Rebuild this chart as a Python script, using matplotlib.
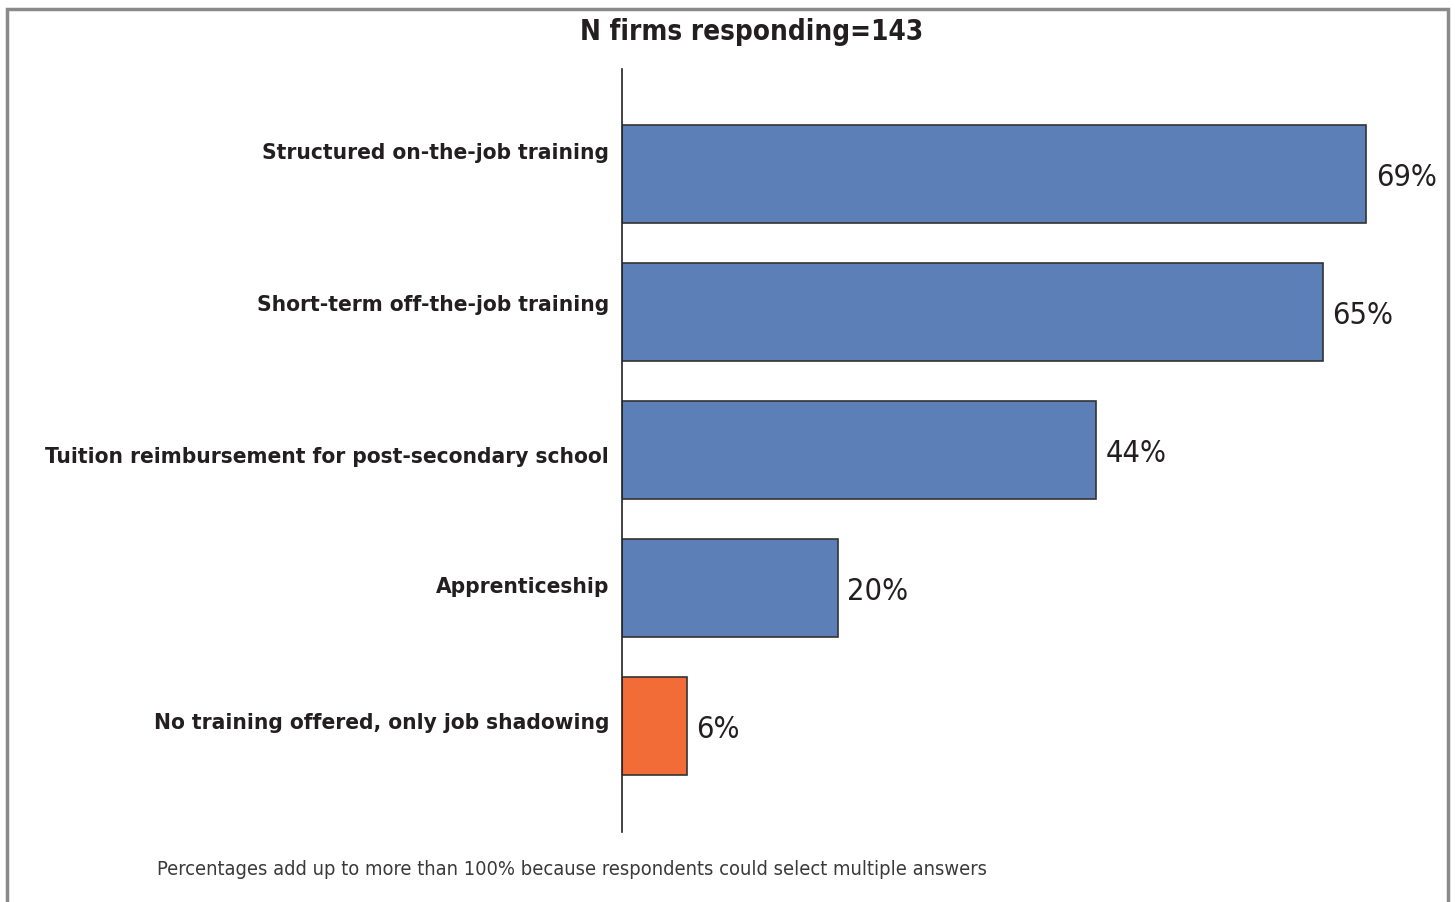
import numpy as np
import matplotlib.pyplot as plt
import matplotlib.transforms as mtransforms
from matplotlib.patches import Rectangle

plt.rcParams['font.family'] = ['DejaVu Sans']
plt.rcParams['font.stretch'] = 'condensed'

categories = ['Structured on-the-job training',
              'Short-term off-the-job training',
              'Tuition reimbursement for post-secondary school',
              'Apprenticeship',
              'No training offered, only job shadowing']
percents = [69, 65, 44, 20, 6]
colors = ['#5b7fb6', '#5b7fb6', '#5b7fb6', '#5b7fb6', '#f26c38']

# baseline shift of each category label relative to its bar centre (pixels, down)
label_shift = [-16, -2, 12, 4, 2]

fig = plt.figure(figsize=(14.55, 9.03), dpi=100)
W, H = 1455, 903

# outer gray frame (open at the bottom)
fig.patches.append(Rectangle((7 / W, -0.1), (1448 - 7) / W, 1.1 - 9.5 / H,
                             transform=fig.transFigure, fill=False,
                             edgecolor='#8a8a8a', linewidth=2.5))

ax = fig.add_axes([622 / W, 1 - 833 / H, (1448 - 622) / W, (833 - 70) / H])
y = np.arange(len(categories))
bars = ax.barh(y, percents, height=0.71, color=colors,
               edgecolor='#333333', linewidth=1.2)

ax.set_xlim(0, (1448 - 622) / ((1366 - 622) / 69))
ax.set_ylim(4.77, -0.76)

for spine in ['top', 'right', 'bottom']:
    ax.spines[spine].set_visible(False)
ax.spines['left'].set_linewidth(1.2)
ax.spines['left'].set_color('#222222')
ax.set_xticks([])
ax.set_yticks([])

# category labels to the left of the axis line
blend = mtransforms.blended_transform_factory(ax.transAxes, ax.transData)
for yy, name, dy in zip(y, categories, label_shift):
    tr = blend + mtransforms.ScaledTranslation(-13 / 100, -dy / 100, fig.dpi_scale_trans)
    ax.text(0, yy, name, transform=tr, ha='right', va='baseline',
            fontsize=16.2, fontweight='bold', color='#231f20', clip_on=False)

for yy, p in zip(y, percents):
    tr = ax.transData + mtransforms.ScaledTranslation(0, -3 / 100, fig.dpi_scale_trans)
    ax.text(p + 0.9, yy, f'{p}%', transform=tr, va='center', ha='left',
            fontsize=22, color='#231f20', clip_on=False)

fig.text(752 / W, 1 - 32 / H, 'N firms responding=143', ha='center',
         va='center', fontsize=20, fontweight='bold', color='#231f20')
fig.text(157 / W, 1 - 870 / H,
         'Percentages add up to more than 100% because respondents could select multiple answers',
         ha='left', va='center', fontsize=14.4, color='#3a3a3a')

fig.savefig('out.png', dpi=100)
